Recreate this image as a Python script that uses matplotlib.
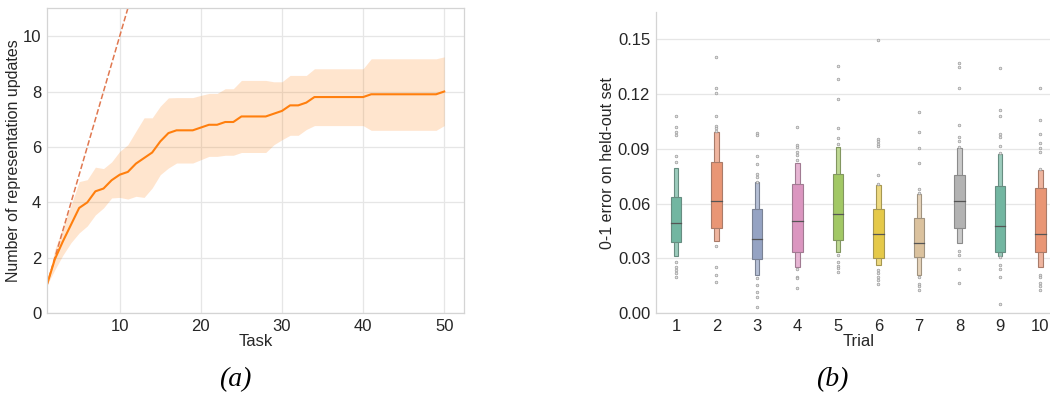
import colorsys
import matplotlib
matplotlib.use("Agg")
import matplotlib.pyplot as plt
import matplotlib.colors as mcolors

# ---- (a) representation updates per task ----
tasks = list(range(1, 51))
mean_updates = [1.0, 1.95, 2.6, 3.2, 3.8, 4.0, 4.4, 4.5, 4.8, 5.0,
                5.1, 5.4, 5.6, 5.8, 6.2, 6.5, 6.6, 6.6, 6.6, 6.7,
                6.8, 6.8, 6.9, 6.9, 7.1, 7.1, 7.1, 7.1, 7.2, 7.3,
                7.5, 7.5, 7.6, 7.8, 7.8, 7.8, 7.8, 7.8, 7.8, 7.8,
                7.9, 7.9, 7.9, 7.9, 7.9, 7.9, 7.9, 7.9, 7.9, 8.0]
upper_updates = [1.0, 2.3, 3.1, 3.9, 4.75, 4.82, 5.27, 5.22, 5.46, 5.84,
                 6.08, 6.57, 7.05, 7.05, 7.47, 7.77, 7.78, 7.78, 7.78, 7.86,
                 7.93, 7.93, 8.1, 8.1, 8.4, 8.4, 8.4, 8.4, 8.35, 8.35,
                 8.58, 8.58, 8.58, 8.82, 8.82, 8.82, 8.82, 8.82, 8.82, 8.82,
                 9.18, 9.18, 9.18, 9.18, 9.18, 9.18, 9.18, 9.18, 9.18, 9.25]
lower_updates = [1.0, 1.57, 2.1, 2.55, 2.9, 3.15, 3.55, 3.8, 4.16, 4.18,
                 4.12, 4.22, 4.18, 4.52, 5.0, 5.24, 5.42, 5.42, 5.42, 5.54,
                 5.66, 5.66, 5.7, 5.7, 5.8, 5.8, 5.8, 5.8, 6.08, 6.26,
                 6.42, 6.42, 6.63, 6.77, 6.77, 6.77, 6.77, 6.77, 6.77, 6.77,
                 6.6, 6.6, 6.6, 6.6, 6.6, 6.6, 6.6, 6.6, 6.6, 6.77]

# ---- (b) 0-1 error per trial (letter values) ----
trials = [1, 2, 3, 4, 5, 6, 7, 8, 9, 10]
outer_hi = [0.0794, 0.0991, 0.0717, 0.0825, 0.0911, 0.0703, 0.0652, 0.0903, 0.0874, 0.0783]
inner_hi = [0.0635, 0.0827, 0.0571, 0.0706, 0.0761, 0.0571, 0.0524, 0.0754, 0.0699, 0.0684]
medians = [0.0493, 0.0613, 0.0405, 0.0506, 0.0542, 0.0432, 0.0387, 0.0617, 0.0475, 0.0432]
inner_lo = [0.0389, 0.0469, 0.0296, 0.0338, 0.0403, 0.0301, 0.0307, 0.0469, 0.0338, 0.0338]
outer_lo = [0.0312, 0.0394, 0.0208, 0.0252, 0.0338, 0.0265, 0.0208, 0.0383, 0.0314, 0.0256]
outliers = [
    [0.108, 0.102, 0.099, 0.0976, 0.0858, 0.0827, 0.0283, 0.0256, 0.0237, 0.0223, 0.0201],
    [0.140, 0.123, 0.1205, 0.1077, 0.1026, 0.1016, 0.0998, 0.0369, 0.0256, 0.021, 0.0173],
    [0.0989, 0.0976, 0.0861, 0.0816, 0.0763, 0.0748, 0.072, 0.0192, 0.0155, 0.0119, 0.0091, 0.0037],
    [0.1018, 0.0922, 0.0909, 0.088, 0.0867, 0.0836, 0.0241, 0.0197, 0.0192, 0.0137],
    [0.1352, 0.1281, 0.1172, 0.1013, 0.0958, 0.0927, 0.0319, 0.0283, 0.0259, 0.025, 0.0228],
    [0.1496, 0.0953, 0.094, 0.0927, 0.0916, 0.0757, 0.0708, 0.0237, 0.0219, 0.0197, 0.0183, 0.0161],
    [0.110, 0.0991, 0.0902, 0.0821, 0.0679, 0.0657, 0.0201, 0.0161, 0.015, 0.0128],
    [0.1369, 0.1345, 0.1232, 0.1031, 0.0964, 0.094, 0.0909, 0.0343, 0.0319, 0.0241, 0.0164],
    [0.1341, 0.1113, 0.1082, 0.0982, 0.0964, 0.0916, 0.0876, 0.031, 0.0265, 0.0241, 0.0201, 0.0051],
    [0.1232, 0.1059, 0.0982, 0.0931, 0.0903, 0.088, 0.0788, 0.021, 0.0201, 0.0168, 0.015, 0.0128],
]
set2 = ['#66c2a5', '#fc8d62', '#8da0cb', '#e78ac3', '#a6d854',
        '#ffd92f', '#e5c494', '#b3b3b3', '#66c2a5', '#fc8d62']

plt.rcParams['font.family'] = ['Liberation Sans', 'DejaVu Sans']
TEXT = '#262626'
GRID = '#e6e6e6'
SPINE = '#d4d4d4'


def desat(c, s=0.75):
    r, g, b = mcolors.to_rgb(c)
    h, l, sat = colorsys.rgb_to_hls(r, g, b)
    return colorsys.hls_to_rgb(h, l, sat * s)


def mix(c, other, t):
    a = mcolors.to_rgb(c)
    b = mcolors.to_rgb(other)
    return tuple(a[i] * (1 - t) + b[i] * t for i in range(3))


fig = plt.figure(figsize=(10.5, 3.93), dpi=100)

# ---------------- (a) ----------------
ax1 = fig.add_axes([0.0445, 0.2028, 0.3975, 0.776])
ax1.fill_between(tasks, lower_updates, upper_updates, color='#ff7f0e', alpha=0.2, lw=0)
ax1.plot(tasks, tasks, '--', color='#e07850', lw=1.1)
ax1.plot(tasks, mean_updates, color='#ff7f0e', lw=1.5)
ax1.set_xlim(1, 52.45)
ax1.set_ylim(0, 11)
ax1.set_xticks([10, 20, 30, 40, 50])
ax1.set_yticks([0, 2, 4, 6, 8, 10])
ax1.grid(True, color=GRID, lw=0.9)
ax1.set_axisbelow(True)
for s in ax1.spines.values():
    s.set_color(SPINE)
    s.set_linewidth(0.9)
ax1.tick_params(length=0, labelsize=12, colors=TEXT, pad=4)
ax1.set_xlabel('Task', fontsize=12, color=TEXT, labelpad=0)
ax1.set_ylabel('Number of representation updates', fontsize=11.5, color=TEXT, labelpad=1)

# ---------------- (b) ----------------
ax2 = fig.add_axes([0.6245, 0.2028, 0.3857, 0.7674])
for i, t in enumerate(trials):
    base = desat(set2[i])
    edge = mix(base, '#5a5a5a', 0.45)
    light = mix(base, '#ffffff', 0.3)
    ax2.bar(t, outer_hi[i] - outer_lo[i], bottom=outer_lo[i], width=0.12,
            color=light, edgecolor=edge, linewidth=0.8, zorder=2)
    ax2.bar(t, inner_hi[i] - inner_lo[i], bottom=inner_lo[i], width=0.25,
            color=base, edgecolor=edge, linewidth=0.8, zorder=3)
    ax2.plot([t - 0.125, t + 0.125], [medians[i], medians[i]],
             color='#555555', lw=0.9, zorder=4)
    ax2.plot([t] * len(outliers[i]), outliers[i], 'o', ms=1.9, mfc='#e2e2e2',
             mec='#9a9a9a', mew=0.5, zorder=4)
ax2.set_xlim(0.5, 10.5)
ax2.set_ylim(0, 0.165)
ax2.set_xticks(trials)
ax2.set_yticks([0.0, 0.03, 0.06, 0.09, 0.12, 0.15])
ax2.set_yticklabels(['0.00', '0.03', '0.06', '0.09', '0.12', '0.15'])
ax2.grid(True, axis='y', color=GRID, lw=0.9)
ax2.set_axisbelow(True)
ax2.spines['top'].set_visible(False)
ax2.spines['right'].set_visible(False)
for s in ('left', 'bottom'):
    ax2.spines[s].set_color(SPINE)
    ax2.spines[s].set_linewidth(0.9)
ax2.tick_params(length=0, labelsize=12, colors=TEXT, pad=4)
ax2.set_xlabel('Trial', fontsize=12, color=TEXT, labelpad=0)
ax2.set_ylabel('0-1 error on held-out set', fontsize=11.5, color=TEXT, labelpad=2)

# sub-captions
fig.text(235 / 1050, 1 - 380 / 393, '(a)', family=['Liberation Serif', 'DejaVu Serif'],
         style='italic', fontsize=20, ha='center', va='center', color='black')
fig.text(832 / 1050, 1 - 380 / 393, '(b)', family=['Liberation Serif', 'DejaVu Serif'],
         style='italic', fontsize=20, ha='center', va='center', color='black')

fig.savefig('out.png', dpi=100)
